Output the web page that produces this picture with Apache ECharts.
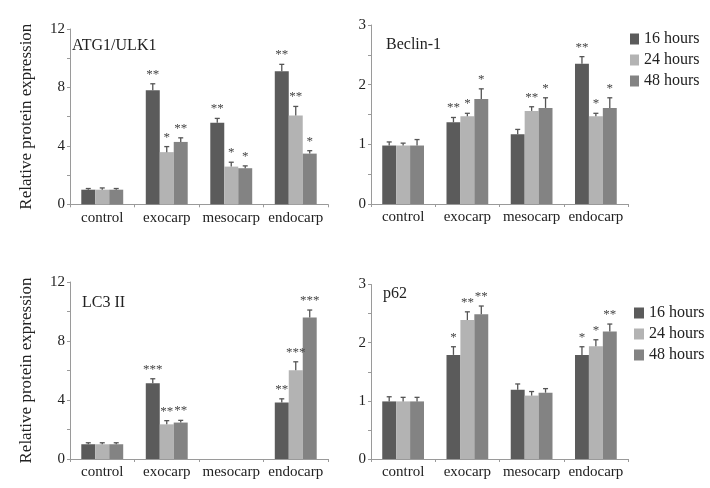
<!DOCTYPE html>
<html><head><meta charset="utf-8">
<script src="https://cdn.jsdelivr.net/npm/echarts@6/dist/echarts.min.js"></script>
<style>html,body{margin:0;padding:0;background:#fff}#c{width:710px;height:488px}</style>
</head><body><div id="c"></div>
<script>
const categories = ['control', 'exocarp', 'mesocarp', 'endocarp'];
const seriesNames = ['16 hours', '24 hours', '48 hours'];
const panelTitles = ['ATG1/ULK1', 'Beclin-1', 'LC3 II', 'p62'];
const yTicksBig = [0, 4, 8, 12];
const yTicksSmall = [0, 1, 2, 3];

// ATG1/ULK1
const atg16 = [1.0, 7.8, 5.58, 9.1];
const atg24 = [1.0, 3.57, 2.58, 6.08];
const atg48 = [1.0, 4.27, 2.47, 3.47];
const atgErr16 = [0.08, 0.45, 0.3, 0.48];
const atgErr24 = [0.12, 0.38, 0.3, 0.62];
const atgErr48 = [0.08, 0.28, 0.16, 0.2];
const atgStar16 = ['', '**', '**', '**'];
const atgStar24 = ['', '*', '*', '**'];
const atgStar48 = ['', '**', '*', '*'];

// Beclin-1
const bec16 = [0.98, 1.37, 1.17, 2.35];
const bec24 = [0.98, 1.47, 1.56, 1.47];
const bec48 = [0.98, 1.76, 1.61, 1.61];
const becErr16 = [0.06, 0.08, 0.08, 0.12];
const becErr24 = [0.04, 0.05, 0.07, 0.05];
const becErr48 = [0.1, 0.17, 0.17, 0.17];
const becStar16 = ['', '**', '', '**'];
const becStar24 = ['', '*', '**', '*'];
const becStar48 = ['', '*', '*', '*'];

// LC3 II
const lc16 = [1.0, 5.14, null, 3.83];
const lc24 = [1.0, 2.35, null, 6.02];
const lc48 = [1.0, 2.47, null, 9.6];
const lcErr16 = [0.1, 0.3, 0, 0.25];
const lcErr24 = [0.1, 0.25, 0, 0.57];
const lcErr48 = [0.1, 0.15, 0, 0.5];
const lcStar16 = ['', '***', '', '**'];
const lcStar24 = ['', '**', '', '***'];
const lcStar48 = ['', '**', '', '***'];

// p62
const p16 = [0.99, 1.79, 1.19, 1.79];
const p24 = [0.99, 2.39, 1.09, 1.94];
const p48 = [0.99, 2.49, 1.14, 2.19];
const pErr16 = [0.08, 0.14, 0.1, 0.14];
const pErr24 = [0.07, 0.14, 0.07, 0.11];
const pErr48 = [0.07, 0.14, 0.07, 0.13];
const pStar16 = ['', '*', '', '*'];
const pStar24 = ['', '**', '', '*'];
const pStar48 = ['', '**', '', '**'];

const panels = [
  {vals: [atg16, atg24, atg48], errs: [atgErr16, atgErr24, atgErr48], stars: [atgStar16, atgStar24, atgStar48], max: 12, step: 2, labels: yTicksBig},
  {vals: [bec16, bec24, bec48], errs: [becErr16, becErr24, becErr48], stars: [becStar16, becStar24, becStar48], max: 3, step: 0.5, labels: yTicksSmall},
  {vals: [lc16, lc24, lc48], errs: [lcErr16, lcErr24, lcErr48], stars: [lcStar16, lcStar24, lcStar48], max: 12, step: 2, labels: yTicksBig},
  {vals: [p16, p24, p48], errs: [pErr16, pErr24, pErr48], stars: [pStar16, pStar24, pStar48], max: 3, step: 0.5, labels: yTicksSmall}
];

const colors = ['#5b5b5b', '#b3b3b3', '#838383'];
const FONT = '"Liberation Serif", "Times New Roman", serif';
const GAP = 0.35;

const grids = [
  {left: 70, top: 29, width: 258, height: 175.3},
  {left: 371, top: 25, width: 257, height: 179},
  {left: 70, top: 282, width: 258, height: 177},
  {left: 371, top: 284.5, width: 257, height: 174.5}
];

const xAxes = [], yAxes = [], series = [];
panels.forEach((p, gi) => {
  xAxes.push({
    type: 'category', gridIndex: gi, data: categories,
    axisLine: {lineStyle: {color: '#9a9a9a', width: 1}},
    axisTick: {show: true, length: 3, lineStyle: {color: '#9a9a9a'}},
    axisLabel: {color: '#222', fontFamily: FONT, fontSize: 15, margin: 6, interval: 0, hideOverlap: false}
  });
  yAxes.push({
    type: 'value', gridIndex: gi, min: 0, max: p.max, interval: p.step,
    splitLine: {show: false},
    axisLine: {show: true, lineStyle: {color: '#9a9a9a', width: 1}},
    axisTick: {show: true, length: 3, lineStyle: {color: '#9a9a9a'}},
    axisLabel: {color: '#222', fontFamily: FONT, fontSize: 15, margin: 5,
      formatter: v => (p.labels.indexOf(v) >= 0 ? String(v) : '')},
    name: gi % 2 === 0 ? 'Relative protein expression' : '',
    nameLocation: 'middle', nameRotate: 90, nameGap: 35,
    nameTextStyle: {color: '#222', fontFamily: FONT, fontSize: 17}
  });
  p.vals.forEach((arr, si) => {
    series.push({
      type: 'bar', name: seriesNames[si], xAxisIndex: gi, yAxisIndex: gi,
      data: arr, barGap: 0, barCategoryGap: (GAP * 100) + '%',
      itemStyle: {color: colors[si]}, silent: true, animation: false
    });
  });
  const items = [];
  const starList = [];
  p.vals.forEach((arr, si) => {
    arr.forEach((v, ci) => {
      if (v == null) return;
      items.push([ci, si, v, p.errs[si][ci]]);
      starList.push(p.stars[si][ci]);
    });
  });
  series.push({
    type: 'custom', xAxisIndex: gi, yAxisIndex: gi, data: items, z: 5,
    animation: false, silent: true,
    renderItem: (params, api) => {
      const ci = api.value(0), si = api.value(1), v = api.value(2), e = api.value(3);
      const band = api.size([1, 0])[0];
      const bw = band * (1 - GAP) / 3;
      const c = api.coord([ci, v]);
      const x = c[0] + (si - 1) * bw;
      const yTop = api.coord([ci, v + e])[1];
      const children = [
        {type: 'line', shape: {x1: x, y1: c[1], x2: x, y2: yTop}, style: {stroke: '#555', lineWidth: 1.3}},
        {type: 'line', shape: {x1: x - 2.5, y1: yTop, x2: x + 2.5, y2: yTop}, style: {stroke: '#555', lineWidth: 1.3}}
      ];
      const s = starList[params.dataIndex];
      if (s) {
        children.push({type: 'text', style: {text: s, x: x, y: yTop - 3, align: 'center', verticalAlign: 'bottom',
          font: '13px ' + FONT, fill: '#444'}});
      }
      return {type: 'group', children: children};
    }
  });
});

const titleStyle = {color: '#222', fontFamily: FONT, fontSize: 16, fontWeight: 'normal'};
const option = {
  backgroundColor: '#fff',
  animation: false,
  grid: grids,
  xAxis: xAxes,
  yAxis: yAxes,
  title: [
    {text: panelTitles[0], left: 72, top: 38, textStyle: titleStyle, padding: 0},
    {text: panelTitles[1], left: 386, top: 37, textStyle: titleStyle, padding: 0},
    {text: panelTitles[2], left: 82, top: 295, textStyle: titleStyle, padding: 0},
    {text: panelTitles[3], left: 383, top: 286, textStyle: titleStyle, padding: 0}
  ],
  legend: [
    {data: seriesNames, orient: 'vertical', left: 630, top: 31, itemWidth: 9, itemHeight: 11, itemGap: 5, icon: 'rect',
      textStyle: {color: '#222', fontFamily: FONT, fontSize: 16}, padding: 0, selectedMode: false},
    {data: seriesNames, orient: 'vertical', left: 634, top: 305, itemWidth: 10, itemHeight: 11, itemGap: 5, icon: 'rect',
      textStyle: {color: '#222', fontFamily: FONT, fontSize: 16}, padding: 0, selectedMode: false}
  ],
  series: series
};
echarts.init(document.getElementById('c'), null, {renderer: 'canvas'}).setOption(option);
</script></body></html>
